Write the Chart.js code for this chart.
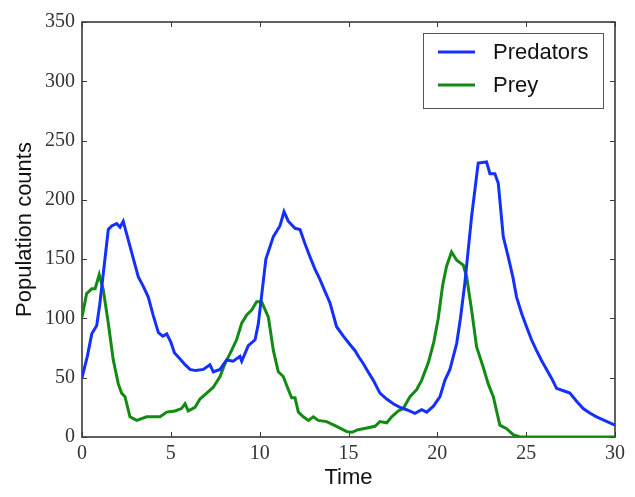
<!DOCTYPE html>
<html>
<head>
<meta charset="utf-8">
<script src="https://cdn.jsdelivr.net/npm/chart.js@4/dist/chart.umd.min.js"></script>
<style>
html,body{margin:0;padding:0;background:#fff;}
canvas{display:block;}
</style>
</head>
<body>
<canvas id="c" width="635" height="497"></canvas>
<script>
// ---- data ----
const predTime = [0,0.3,0.55,0.83,1.0,1.2,1.48,1.67,1.95,2.14,2.32,2.5,2.7,2.95,3.17,3.45,3.73,4.0,4.3,4.55,4.77,5.0,5.2,5.51,5.8,6.08,6.4,6.83,7.2,7.39,7.77,8.14,8.51,8.89,8.99,9.36,9.74,9.92,10.1,10.35,10.77,11.14,11.37,11.61,11.99,12.27,12.55,12.83,13.1,13.39,13.7,13.96,14.33,14.71,15.08,15.36,15.6,15.83,16.1,16.39,16.77,17.15,17.52,17.9,18.27,18.74,19.12,19.4,19.78,20.15,20.43,20.71,21.09,21.3,21.55,21.93,22.3,22.77,22.96,23.24,23.43,23.71,23.99,24.25,24.46,24.75,25.02,25.3,25.58,25.85,26.15,26.45,26.71,27.1,27.46,27.85,28.21,28.6,28.96,29.4,30];
const predCounts = [50,68,87,94,112,138,175,178,180,177,182,172,161,147,135,127,118,103,88,85,87,80,71,66,61,57,56,57,61,55,57,65,64,68,64,77,82,95,118,150,169,178,190,182,176,175,163,152,142,133,122,113,93,85,78,73,67,62,55,48,37,32,28,25,23,20,23,21,26,34,48,57,79,100,130,186,231,232,222,222,214,169,152,135,118,104,93,82,73,65,57,49,41,39,37,30,24,20,17,14,10];
const preyTime = [0,0.26,0.55,0.74,0.97,1.2,1.48,1.76,2.04,2.23,2.42,2.7,3.08,3.64,4.39,4.77,5.23,5.6,5.8,5.98,6.36,6.64,7.02,7.39,7.77,8.05,8.42,8.7,8.99,9.27,9.55,9.83,10.11,10.49,10.77,11.05,11.33,11.61,11.8,11.99,12.18,12.46,12.74,13.02,13.3,13.77,14.33,14.9,15.2,15.5,15.83,16.49,16.77,17.15,17.43,17.8,18.08,18.46,18.84,19.12,19.5,19.8,20.05,20.3,20.52,20.8,21.09,21.46,21.65,21.93,22.21,22.58,22.86,23.15,23.52,23.9,24.27,24.65,30];
const preyCounts = [101,121,125,125,137,124,96,65,45,37,34,17,14,17,17,21,22,24,28,22,25,32,37,42,51,62,73,82,96,103,107,114,114,101,73,55,51,40,33,33,21,17,14,17,14,13,9,4.5,4,6,7,9,13,12,17,22,24,34,40,48,63,80,100,128,144,156,149,145,135,107,76,59,45,34,10,7,2,0,0];
const seriesNames = ['Predators','Prey'];
const xTicks = [0,5,10,15,20,25,30];
const yTicks = [0,50,100,150,200,250,300,350];

const toPts = (t, v) => t.map((x, i) => ({x: x, y: v[i]}));

const frameColor = '#3a3a3a';

const framePlugin = {
  id: 'frame',
  beforeDatasetsDraw(chart) {
    const {ctx, chartArea: a, scales} = chart;
    ctx.save();
    ctx.strokeStyle = frameColor;
    ctx.lineWidth = 1;
    const L = 5;
    ctx.beginPath();
    xTicks.forEach(v => {
      const px = Math.round(scales.x.getPixelForValue(v)) + 0.5;
      ctx.moveTo(px, a.bottom); ctx.lineTo(px, a.bottom - L);
      ctx.moveTo(px, a.top); ctx.lineTo(px, a.top + L);
    });
    yTicks.forEach(v => {
      const py = Math.round(scales.y.getPixelForValue(v)) + 0.5;
      ctx.moveTo(a.left, py); ctx.lineTo(a.left + L, py);
      ctx.moveTo(a.right, py); ctx.lineTo(a.right - L, py);
    });
    ctx.stroke();
    ctx.lineWidth = 1.6;
    ctx.strokeRect(a.left, a.top, a.right - a.left, a.bottom - a.top);
    ctx.restore();
  },
  afterDraw(chart) {
    const {ctx, chartArea: a} = chart;
    const bx = a.right - 192, by = a.top + 11, bw = 180, bh = 75;
    ctx.save();
    ctx.fillStyle = '#fff';
    ctx.fillRect(bx, by, bw, bh);
    ctx.strokeStyle = '#555';
    ctx.lineWidth = 1;
    ctx.strokeRect(bx + 0.5, by + 0.5, bw, bh);
    chart.data.datasets.forEach((ds, i) => {
      const y = by + 19 + i * 33;
      ctx.strokeStyle = ds.borderColor;
      ctx.lineWidth = 3;
      ctx.beginPath();
      ctx.moveTo(bx + 15, y); ctx.lineTo(bx + 52, y);
      ctx.stroke();
      ctx.fillStyle = '#111';
      ctx.font = '22px "Liberation Sans", Arial, sans-serif';
      ctx.textBaseline = 'middle';
      ctx.textAlign = 'left';
      ctx.fillText(ds.label, bx + 70, y + 1);
    });
    ctx.restore();
  }
};

new Chart(document.getElementById('c'), {
  type: 'line',
  data: {
    datasets: [
      {label: seriesNames[0], data: toPts(predTime, predCounts), borderColor: '#1430ff', borderWidth: 3, pointRadius: 0, tension: 0, fill: false},
      {label: seriesNames[1], data: toPts(preyTime, preyCounts), borderColor: '#138a13', borderWidth: 3, pointRadius: 0, tension: 0, fill: false}
    ]
  },
  options: {
    responsive: false,
    animation: false,
    layout: {padding: {top: 22, right: 20, left: 0, bottom: 0}},
    plugins: {legend: {display: false}, tooltip: {enabled: false}},
    scales: {
      x: {
        type: 'linear', min: 0, max: 30,
        afterFit(s) { s.height = 60; },
        afterBuildTicks(s) { s.ticks = xTicks.map(v => ({value: v})); },
        grid: {display: false, drawTicks: false},
        border: {display: false},
        ticks: {color: '#333', padding: 5, maxRotation: 0, font: {family: '"Liberation Serif", "Times New Roman", serif', size: 20}},
        title: {display: true, text: 'Time', color: '#111', padding: {top: 0, bottom: 6}, font: {family: '"Liberation Sans", Arial, sans-serif', size: 22}}
      },
      y: {
        type: 'linear', min: 0, max: 350,
        afterFit(s) { s.width = 82; },
        afterBuildTicks(s) { s.ticks = yTicks.map(v => ({value: v})); },
        grid: {display: false, drawTicks: false},
        border: {display: false},
        ticks: {color: '#333', padding: 7, font: {family: '"Liberation Serif", "Times New Roman", serif', size: 20}},
        title: {display: true, text: 'Population counts', color: '#111', padding: {top: 12, bottom: 0}, font: {family: '"Liberation Sans", Arial, sans-serif', size: 22}}
      }
    }
  },
  plugins: [framePlugin]
});
</script>
</body>
</html>
